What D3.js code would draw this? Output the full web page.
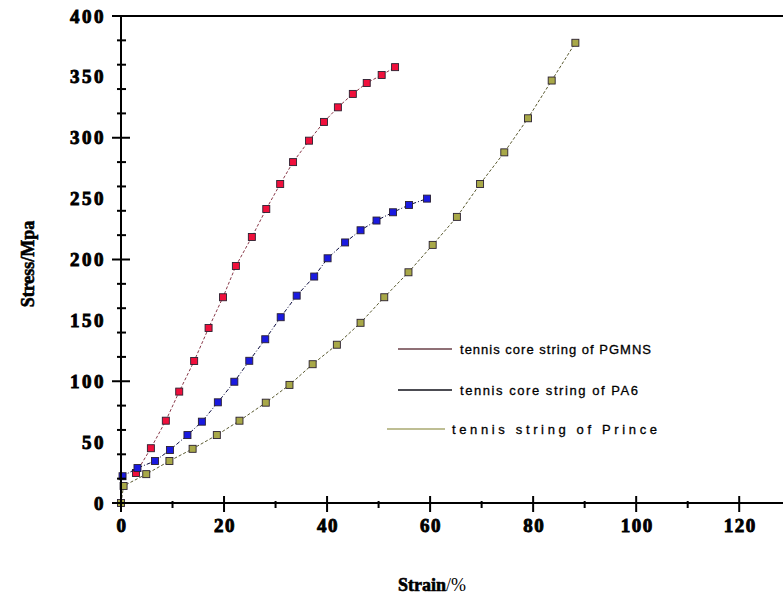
<!DOCTYPE html>
<html>
<head>
<meta charset="utf-8">
<script src="https://cdn.jsdelivr.net/npm/d3@7"></script>
<style>
  html, body { margin: 0; padding: 0; background: #fff; }
  svg { display: block; }
</style>
</head>
<body>
<svg id="chart" width="783" height="598"></svg>
<script>
// Tensile stress–strain curves of three tennis strings
const seriesNames = [
  "tennis core string of PGMNS",
  "tennis core string of PA6",
  "tennis string of Prince"
];

const pgmnsStrain = [2.9, 5.8, 8.7, 11.3, 14.2, 17.0, 19.8, 22.3, 25.4, 28.2, 30.9, 33.4, 36.5, 39.4, 42.1, 45.0, 47.7, 50.6, 53.2];
const pgmnsStress = [24.6, 45, 67.6, 91.5, 116.6, 143.7, 169, 194.7, 218.5, 241.5, 262, 280, 297.6, 313, 325, 336, 345, 351.5, 358];

const pa6Strain = [0.3, 3.2, 6.6, 9.5, 12.9, 15.7, 18.8, 22.0, 24.9, 28.0, 31.0, 34.1, 37.5, 40.1, 43.5, 46.5, 49.6, 52.8, 55.9, 59.4];
const pa6Stress = [22, 28.7, 34.5, 43.5, 55.8, 66.8, 82.7, 99.6, 116.8, 134.5, 152.6, 170.3, 186, 201, 214, 224, 232, 238.8, 244.8, 250];

const princeStrain = [0, 0.5, 4.9, 9.4, 13.9, 18.6, 23.0, 28.1, 32.7, 37.2, 41.9, 46.5, 51.1, 55.8, 60.5, 65.2, 69.7, 74.4, 79.0, 83.6, 88.2];
const princeStress = [0, 14, 23.7, 34.5, 44.5, 55.8, 67.6, 82.4, 97, 114, 130, 148, 169, 189.5, 212, 235, 262, 288, 316, 347, 378];

const xTicks = [0, 20, 40, 60, 80, 100, 120];
const yTicks = [0, 50, 100, 150, 200, 250, 300, 350, 400];

const svg = d3.select("#chart");

const x = d3.scaleLinear().domain([0, 128.5]).range([121, 783]);
const y = d3.scaleLinear().domain([0, 400]).range([503, 16]);

const serif = "'Liberation Serif', 'Times New Roman', serif";
const sans = "'Liberation Sans', Arial, sans-serif";

const series = [
  { name: seriesNames[0], xs: pgmnsStrain, ys: pgmnsStress, fill: "#f0103c", line: "#8a3a4a", dash: "3,2", legend: "#6a4048" },
  { name: seriesNames[1], xs: pa6Strain, ys: pa6Stress, fill: "#1a1ae0", line: "#0c0c40", dash: "4,2,1,2", legend: "#101018" },
  { name: seriesNames[2], xs: princeStrain, ys: princeStress, fill: "#a8a848", line: "#5a5a30", dash: "3,2", legend: "#a8a870" }
];

// Curves
const lineGen = d3.line().x(d => x(d[0])).y(d => y(d[1]));
series.forEach(s => {
  const pts = s.xs.map((v, i) => [v, s.ys[i]]);
  svg.append("path")
    .attr("d", lineGen(pts))
    .attr("fill", "none")
    .attr("stroke", s.line)
    .attr("stroke-width", 1)
    .attr("stroke-dasharray", s.dash);
  svg.append("g").selectAll("rect")
    .data(pts)
    .join("rect")
    .attr("x", d => x(d[0]) - 3.5)
    .attr("y", d => y(d[1]) - 3.5)
    .attr("width", 7)
    .attr("height", 7)
    .attr("fill", s.fill)
    .attr("stroke", "#2a2030")
    .attr("stroke-width", 0.9);
});

// Frame: left axis, bottom axis, top border
const axisG = svg.append("g").attr("stroke", "#000").attr("stroke-width", 2);
axisG.append("line").attr("x1", x(0)).attr("x2", x(0)).attr("y1", y(400)).attr("y2", y(0));
axisG.append("line").attr("x1", x(0)).attr("x2", 783).attr("y1", y(0)).attr("y2", y(0));
axisG.append("line").attr("x1", x(0)).attr("x2", 783).attr("y1", y(400)).attr("y2", y(400));

// Y ticks (major every 50, minor every 25), crossing the axis
y.ticks(16).forEach(v => {
  const major = v % 50 === 0;
  axisG.append("line")
    .attr("x1", x(0) - (major ? 9 : 4))
    .attr("x2", x(0) + (major ? 9 : 5))
    .attr("y1", y(v)).attr("y2", y(v));
});
// X ticks (major every 20, minor every 10)
d3.range(0, 130, 10).forEach(v => {
  const major = v % 20 === 0;
  axisG.append("line")
    .attr("x1", x(v)).attr("x2", x(v))
    .attr("y1", y(0) - (major ? 7 : 2))
    .attr("y2", y(0) + (major ? 9 : 5));
});

// Tick labels (heavy bold serif)
svg.append("g").selectAll("text")
  .data(yTicks)
  .join("text")
  .attr("x", 106)
  .attr("y", d => y(d) + 6.5)
  .attr("text-anchor", "end")
  .attr("font-family", serif)
  .attr("font-weight", "bold")
  .attr("font-size", 19)
  .attr("letter-spacing", 2.5)
  .attr("stroke", "#000")
  .attr("stroke-width", 0.9)
  .text(d => d);

svg.append("g").selectAll("text")
  .data(xTicks)
  .join("text")
  .attr("x", d => x(d) + 1)
  .attr("y", 532)
  .attr("text-anchor", "middle")
  .attr("font-family", serif)
  .attr("font-weight", "bold")
  .attr("font-size", 19)
  .attr("letter-spacing", 1.5)
  .attr("stroke", "#000")
  .attr("stroke-width", 0.9)
  .text(d => d);

// Axis titles
svg.append("text")
  .attr("transform", "translate(34,264) rotate(-90)")
  .attr("text-anchor", "middle")
  .attr("font-family", serif)
  .attr("font-weight", "bold")
  .attr("font-size", 18)
  .attr("stroke", "#000")
  .attr("stroke-width", 0.6)
  .text("Stress/Mpa");

const xt = svg.append("text")
  .attr("x", 432)
  .attr("y", 591)
  .attr("text-anchor", "middle")
  .attr("font-family", serif)
  .attr("font-size", 18);
xt.append("tspan").attr("font-weight", "bold").attr("stroke", "#000").attr("stroke-width", 0.6).text("Strain");
xt.append("tspan").text("/%");

// Legend
const legendRows = [
  { y: 349, x1: 398, x2: 452, tx: 460, tw: 191 },
  { y: 390, x1: 398, x2: 452, tx: 460, tw: 178 },
  { y: 429, x1: 387, x2: 445, tx: 452, tw: 205 }
];
series.forEach((s, i) => {
  const r = legendRows[i];
  svg.append("line")
    .attr("x1", r.x1).attr("x2", r.x2)
    .attr("y1", r.y).attr("y2", r.y)
    .attr("stroke", s.legend)
    .attr("stroke-width", 1.6);
  svg.append("text")
    .attr("x", r.tx)
    .attr("y", r.y + 5)
    .attr("font-family", sans)
    .attr("font-size", 13)
    .attr("textLength", r.tw)
    .attr("lengthAdjust", "spacing")
    .attr("stroke", "#000")
    .attr("stroke-width", 0.3)
    .text(s.name);
});
</script>
</body>
</html>
